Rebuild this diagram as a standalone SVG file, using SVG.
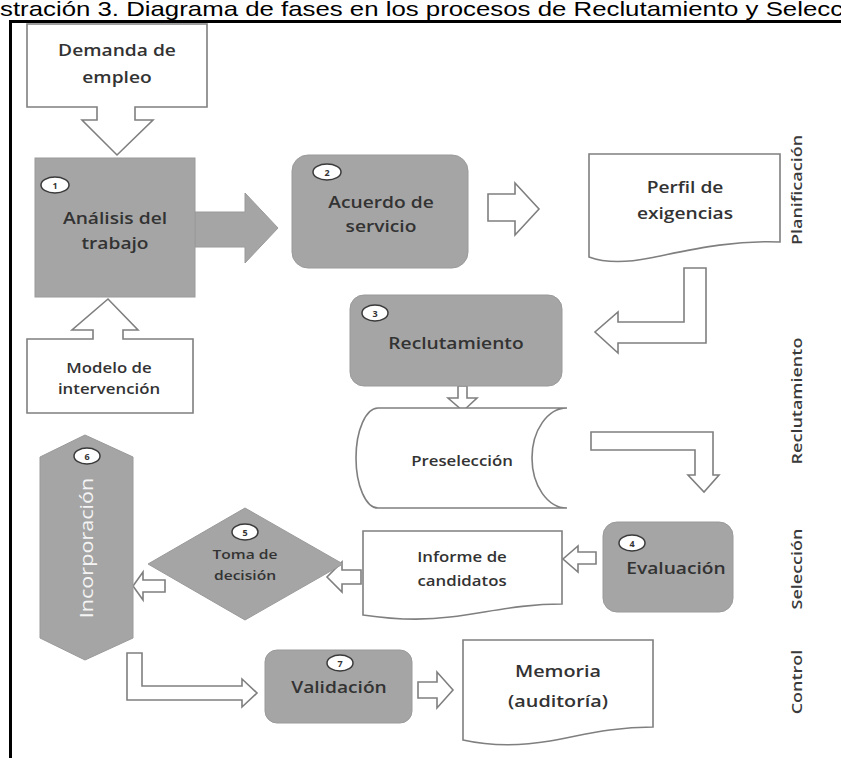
<svg xmlns="http://www.w3.org/2000/svg" width="841" height="758" viewBox="0 0 841 758">
  <style>
    .t { font-family: "Open Sans", "DejaVu Sans", sans-serif; font-weight: 600; fill: #333; text-anchor: middle; }
    .side { font-family: "Open Sans", "DejaVu Sans", sans-serif; font-weight: 600; fill: #3a3a3a; text-anchor: middle; font-size: 15px; }
    .gray { fill: #a5a5a5; stroke: #9a9a9a; stroke-width: 1; }
    .hollow { fill: #fff; stroke: #7f7f7f; stroke-width: 1.6; stroke-linejoin: miter; }
    .doc { fill: #fff; stroke: #7f7f7f; stroke-width: 1.6; }
    .badge { fill: #fff; stroke: #3a3a3a; stroke-width: 1.5; }
    .num { font-family: "Open Sans", "DejaVu Sans", sans-serif; font-weight: 700; font-size: 9px; fill: #333; text-anchor: middle; }
  </style>

  <!-- caption (cropped at both sides) -->
  <text x="0" y="16" transform="scale(1.29 1)" font-family="Liberation Sans, Arial, sans-serif" font-size="20" fill="#000">stración 3. Diagrama de fases en los procesos de Reclutamiento y Selecc</text>

  <!-- frame -->
  <path d="M10.5,758 V21.5 H841" fill="none" stroke="#000" stroke-width="3"/>

  <!-- inputs -->
  <g id="demanda">
    <path class="hollow" d="M27,24 H207 V107 H135 V120 H153 L117,155 L82,120 H97 V107 H27 Z"/>
    <text class="t" font-size="16" transform="translate(117 56) scale(1.2 1)"><tspan x="0">Demanda de</tspan><tspan x="0" dy="27">empleo</tspan></text>
  </g>

  <g id="modelo">
    <path class="hollow" d="M27,413 V339 H93 V330 H72 L108,299 L138,330 H123 V339 H193 V413 Z"/>
    <text class="t" font-size="14" transform="translate(109 373) scale(1.2 1)"><tspan x="0">Modelo de</tspan><tspan x="0" dy="21">intervención</tspan></text>
  </g>

  <!-- connectors -->
  <g id="connectors">
    <path class="gray" stroke="none" d="M195,212 H245 V193 L278,228 L245,263 V247 H195 Z"/>
    <path class="hollow" d="M488,194 H515 V183 L539,209 L515,235 V221 H488 Z"/>
    <path class="hollow" d="M684,268 H706 V343 H618 V353 L595,332 L618,312 V322 H684 Z"/>
    <path class="hollow" d="M458,386 H467 V398 H477 L463,411 L448,398 H458 Z"/>
    <path class="hollow" d="M591,432 H713 V475 H719 L704,492 L688,475 H695 V450 H591 Z"/>
    <path class="hollow" d="M596,552 V564 H578 V572 L563,559 L578,546 V552 Z"/>
    <path class="hollow" d="M361,570 V584 H342 V592 L327,577 L342,562 V570 Z"/>
    <path class="hollow" d="M165,580 V592 H143 V600 L133,586 L143,572 V580 Z"/>
    <path class="hollow" d="M127,653 H142 V686 H242 V679 L257,693 L242,707 V700 H127 Z"/>
    <path class="hollow" d="M418,682 H437 V672 L453,690 L437,708 V698 H418 Z"/>
  </g>

  <!-- 1 -->
  <g id="analisis">
    <rect class="gray" x="35" y="158" width="160" height="139"/>
    <ellipse class="badge" cx="55" cy="185" rx="14" ry="8"/>
    <text class="num" x="55" y="188.5">1</text>
    <text class="t" font-size="16" transform="translate(115 224) scale(1.2 1)"><tspan x="0">Análisis del</tspan><tspan x="0" dy="25">trabajo</tspan></text>
  </g>

  <!-- 2 -->
  <g id="acuerdo">
    <rect class="gray" x="292" y="155" width="176" height="113" rx="16"/>
    <ellipse class="badge" cx="327" cy="172" rx="14" ry="8"/>
    <text class="num" x="327" y="175.5">2</text>
    <text class="t" font-size="16" transform="translate(381 208) scale(1.2 1)"><tspan x="0">Acuerdo de</tspan><tspan x="0" dy="24">servicio</tspan></text>
  </g>

  <g id="perfil">
    <path class="doc" d="M589,154 H780 V242 C730,240 690,250 650,258 C625,263 605,263 589,257 Z"/>
    <text class="t" font-size="16" transform="translate(685 193) scale(1.2 1)"><tspan x="0">Perfil de</tspan><tspan x="0" dy="26">exigencias</tspan></text>
  </g>

  <!-- 3 -->
  <g id="reclutamiento">
    <rect class="gray" x="350" y="295" width="212" height="91" rx="14"/>
    <ellipse class="badge" cx="375" cy="313" rx="13" ry="8"/>
    <text class="num" x="375" y="316.5">3</text>
    <text class="t" font-size="16" transform="translate(456 349) scale(1.2 1)">Reclutamiento</text>
  </g>

  <g id="preseleccion">
    <path class="doc" d="M378,408 H567 A35,50 0 0 0 567,508 H378 A22,50 0 0 1 378,408 Z"/>
    <text class="t" font-size="14" transform="translate(462 466) scale(1.2 1)">Preselección</text>
  </g>

  <!-- 4 -->
  <g id="evaluacion">
    <rect class="gray" x="603" y="522" width="130" height="90" rx="14"/>
    <ellipse class="badge" cx="632" cy="543" rx="13" ry="8"/>
    <text class="num" x="632" y="546.5">4</text>
    <text class="t" font-size="16" transform="translate(676 574) scale(1.2 1)">Evaluación</text>
  </g>

  <g id="informe">
    <path class="doc" d="M363,531 H562 V604 C520,604 490,612 450,617 C420,621 390,619 363,615 Z"/>
    <text class="t" font-size="14" transform="translate(462 562) scale(1.2 1)"><tspan x="0">Informe de</tspan><tspan x="0" dy="24">candidatos</tspan></text>
  </g>

  <!-- 5 -->
  <g id="decision">
    <polygon class="gray" points="245,508 343,564 245,620 148,564"/>
    <ellipse class="badge" cx="245" cy="532" rx="13" ry="8"/>
    <text class="num" x="245" y="535.5">5</text>
    <text class="t" font-size="13" transform="translate(245 559) scale(1.2 1)"><tspan x="0">Toma de</tspan><tspan x="0" dy="21">decisión</tspan></text>
  </g>

  <!-- 6 -->
  <g id="incorporacion">
    <polygon class="gray" points="85,435 133,457 133,638 85,660 40,638 40,457"/>
    <ellipse class="badge" cx="87" cy="456" rx="13" ry="8"/>
    <text class="num" x="87" y="459.5">6</text>
    <text class="t" font-size="18" font-weight="400" fill="#f4f4f4" style="fill:#f4f4f4;font-weight:400" transform="translate(93 548) rotate(-90) scale(1.2 1)">Incorporación</text>
  </g>

  <!-- 7 -->
  <g id="validacion">
    <rect class="gray" x="265" y="650" width="147" height="73" rx="12"/>
    <ellipse class="badge" cx="340" cy="663" rx="13" ry="8"/>
    <text class="num" x="340" y="666.5">7</text>
    <text class="t" font-size="16" transform="translate(339 693) scale(1.2 1)">Validación</text>
  </g>

  <g id="memoria">
    <path class="doc" d="M463,640 H653 V727 C610,727 580,736 550,741 C520,746 490,746 463,740 Z"/>
    <text class="t" font-size="16.5" transform="translate(558 677) scale(1.2 1)"><tspan x="0">Memoria</tspan><tspan x="0" dy="30">(auditoría)</tspan></text>
  </g>

  <!-- phase labels -->
  <g id="phases">
    <text class="side" transform="translate(802 190) rotate(-90) scale(1.2 1)">Planificación</text>
    <text class="side" transform="translate(802 401) rotate(-90) scale(1.2 1)">Reclutamiento</text>
    <text class="side" transform="translate(802 569) rotate(-90) scale(1.2 1)">Selección</text>
    <text class="side" transform="translate(802 682) rotate(-90) scale(1.2 1)">Control</text>
  </g>
</svg>
